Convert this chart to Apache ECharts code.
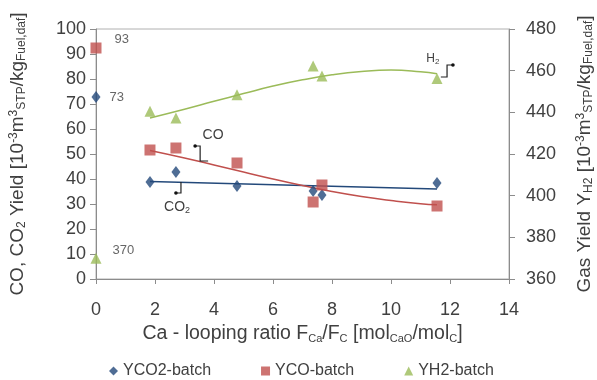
<!DOCTYPE html>
<html><head><meta charset="utf-8">
<script src="https://cdn.jsdelivr.net/npm/echarts@6/dist/echarts.min.js"></script>
<style>html,body{margin:0;padding:0;background:#fff}#c{width:597px;height:380px}</style>
</head><body><div id="c"></div>
<script>
// Data
var xPoints = [0, 1.83, 2.71, 4.78, 7.36, 7.66, 11.56];
var co2Values = [72.8, 38.8, 42.8, 37.2, 35.2, 33.6, 38.4];
var coValues = [92.4, 51.6, 52.4, 46.4, 30.8, 37.6, 29.2];
var h2Values = [370, 440.5, 437.3, 448.5, 462.2, 457.5, 456.3];
// trendlines
var co2TrendX = [1.83, 11.56];
var co2TrendY = [39.0, 36.0];
var coTrendX = [1.83, 3, 4, 5, 6, 7, 8, 9, 10, 11, 11.56];
var coTrendY = [51.4, 48.4, 45.6, 42.8, 40.0, 37.4, 35.0, 33.0, 31.4, 30.1, 29.7];
var h2TrendX = [1.83, 3, 4, 5, 6, 7, 8, 9, 10, 11, 11.56];
var h2TrendY = [437.3, 441.5, 445.3, 449.0, 452.6, 455.6, 458.0, 459.6, 460.3, 459.5, 458.5];
var xTicks = [0, 2, 4, 6, 8, 10, 12, 14];
var leftTicks = [0, 100, 10];
var rightTicks = [360, 480, 20];
var pointLabels = {co2: '73', co: '93', h2: '370'};

var cBlue = '#23497a', cRed = '#c0504d', cGreen = '#9bbb59';
var axisCol = '#8c8c8c', txt = '#404040';
var FONT = '"Liberation Sans", Arial, sans-serif';

function zip(xs, ys) { return xs.map(function (x, i) { return [x, ys[i]]; }); }
function pts(ys, lbl, off) {
  return xPoints.map(function (x, i) {
    var d = {value: [x, ys[i]]};
    if (i === 0) d.label = {show: true, formatter: lbl, position: 'right', offset: off,
      color: txt, fontSize: 13, fontFamily: FONT};
    return d;
  });
}
function richName(sz, ss) {
  return {
    n: {fontSize: sz, lineHeight: 20, color: txt, fontFamily: FONT},
    sub: {fontSize: ss, lineHeight: ss, verticalAlign: 'bottom', color: txt, fontFamily: FONT},
    sup: {fontSize: ss, lineHeight: ss, verticalAlign: 'top', color: txt, fontFamily: FONT}
  };
}

var chart = echarts.init(document.getElementById('c'), null, {renderer: 'canvas'});
var option = {
  animation: false,
  textStyle: {fontFamily: FONT},
  grid: {left: 96, right: 88, top: 29, height: 250, show: true, borderColor: '#b0b0b0', borderWidth: 1,
    outerBoundsMode: 'none', containLabel: false},
  legend: {
    left: 104, top: 358, itemGap: 50, itemWidth: 9, itemHeight: 9,
    textStyle: {fontSize: 16, color: txt, fontFamily: FONT},
    data: [{name: 'YCO2-batch', icon: 'diamond'}, {name: 'YCO-batch', icon: 'rect'}, {name: 'YH2-batch', icon: 'triangle'}]
  },
  xAxis: {
    type: 'value', min: xTicks[0], max: xTicks[xTicks.length - 1], interval: xTicks[1] - xTicks[0],
    splitLine: {show: false},
    axisLine: {lineStyle: {color: axisCol}},
    axisTick: {show: true, length: 5, lineStyle: {color: axisCol}},
    axisLabel: {fontSize: 18, color: txt, margin: 22, fontFamily: FONT},
    name: '{n|Ca - looping ratio F}{sub|Ca}{n|/F}{sub|C}{n| [mol}{sub|CaO}{n|/mol}{sub|C}{n|]}',
    nameLocation: 'middle', nameGap: 45,
    nameTextStyle: {rich: richName(19.5, 11)}
  },
  yAxis: [{
    type: 'value', min: leftTicks[0], max: leftTicks[1], interval: leftTicks[2],
    splitLine: {show: false},
    axisLine: {show: true, lineStyle: {color: axisCol}},
    axisTick: {show: true, length: 6, lineStyle: {color: axisCol}},
    axisLabel: {fontSize: 18, color: txt, margin: 10, fontFamily: FONT},
    name: '{n|CO, CO}{sub|2}{n| Yield [10}{sup|-3}{n|m}{sup|3}{sub|STP}{n|/kg}{sub|Fuel,daf}{n|]}',
    nameLocation: 'middle', nameGap: 68, nameRotate: 90,
    nameTextStyle: {rich: richName(19, 12)}
  }, {
    type: 'value', min: rightTicks[0], max: rightTicks[1], interval: rightTicks[2], position: 'right',
    splitLine: {show: false},
    axisLine: {show: true, lineStyle: {color: axisCol}},
    axisTick: {show: true, length: 6, lineStyle: {color: axisCol}},
    axisLabel: {fontSize: 18, color: txt, margin: 17, fontFamily: FONT},
    name: '{n|Gas Yield Y}{sub|H2}{n| [10}{sup|-3}{n|m}{sup|3}{sub|STP}{n|/kg}{sub|Fuel,daf}{n|]}',
    nameLocation: 'middle', nameGap: 66, nameRotate: 90,
    nameTextStyle: {rich: richName(19, 12)}
  }],
  series: [
    {name: 'co2trend', type: 'line', data: zip(co2TrendX, co2TrendY), showSymbol: false, symbol: 'none',
      lineStyle: {color: cBlue, width: 1.5}, z: 1, silent: true},
    {name: 'cotrend', type: 'line', data: zip(coTrendX, coTrendY), smooth: true, symbol: 'none',
      lineStyle: {color: cRed, width: 1.5}, z: 1, silent: true},
    {name: 'h2trend', type: 'line', yAxisIndex: 1, data: zip(h2TrendX, h2TrendY), smooth: true, symbol: 'none',
      lineStyle: {color: cGreen, width: 1.5}, z: 1, silent: true},
    {name: 'YCO2-batch', type: 'scatter', symbol: 'diamond', symbolSize: [9, 12], itemStyle: {color: cBlue},
      data: pts(co2Values, pointLabels.co2, [4, 0]), z: 3},
    {name: 'YCO-batch', type: 'scatter', symbol: 'rect', symbolSize: 11, itemStyle: {color: cRed},
      data: pts(coValues, pointLabels.co, [8, -9]), z: 3},
    {name: 'YH2-batch', type: 'scatter', symbol: 'triangle', symbolSize: 11, yAxisIndex: 1, itemStyle: {color: cGreen},
      data: pts(h2Values, pointLabels.h2, [6, -8]), z: 3}
  ]
};
chart.setOption(option);

// Annotations anchored in data coordinates
function P(x, y) { return chart.convertToPixel({gridIndex: 0}, [x, y]); }
function poly(list) {
  return {type: 'polyline', z: 10, shape: {points: list.map(function (p) { return P(p[0], p[1]); })},
    style: {stroke: '#222', lineWidth: 1.2, fill: null}};
}
function dot(x, y) { var p = P(x, y); return {type: 'circle', z: 10, shape: {cx: p[0], cy: p[1], r: 1.8}, style: {fill: '#111'}}; }
function txtEl(x, y, rich, str, size) {
  var p = P(x, y);
  return {type: 'text', z: 10, x: p[0], y: p[1], style: {text: str, rich: rich, fill: txt,
    font: size + 'px ' + FONT, align: 'center', verticalAlign: 'middle'}};
}
var annRich = {n: {fontSize: 14, fill: txt, fontFamily: FONT, lineHeight: 16}, s: {fontSize: 9, fill: txt, fontFamily: FONT, lineHeight: 9, verticalAlign: 'bottom'}};
var annRich2 = {n: {fontSize: 12, fill: txt, fontFamily: FONT, lineHeight: 14}, s: {fontSize: 8, fill: txt, fontFamily: FONT, lineHeight: 8, verticalAlign: 'bottom'}};
chart.setOption({graphic: [
  poly([[3.36, 53.2], [3.53, 53.2], [3.53, 47.2], [3.8, 47.2]]), dot(3.36, 53.2),
  txtEl(3.97, 57.4, annRich, '{n|CO}', 14),
  poly([[2.88, 38.8], [2.88, 34.4], [2.71, 34.4]]), dot(2.71, 34.4),
  txtEl(2.75, 28.6, annRich, '{n|CO}{s|2}', 14),
  poly([[11.69, 80.8], [11.9, 80.8], [11.9, 85.6], [12.1, 85.6]]), dot(12.1, 85.6),
  txtEl(11.42, 88, annRich2, '{n|H}{s|2}', 12)
]});
</script></body></html>
